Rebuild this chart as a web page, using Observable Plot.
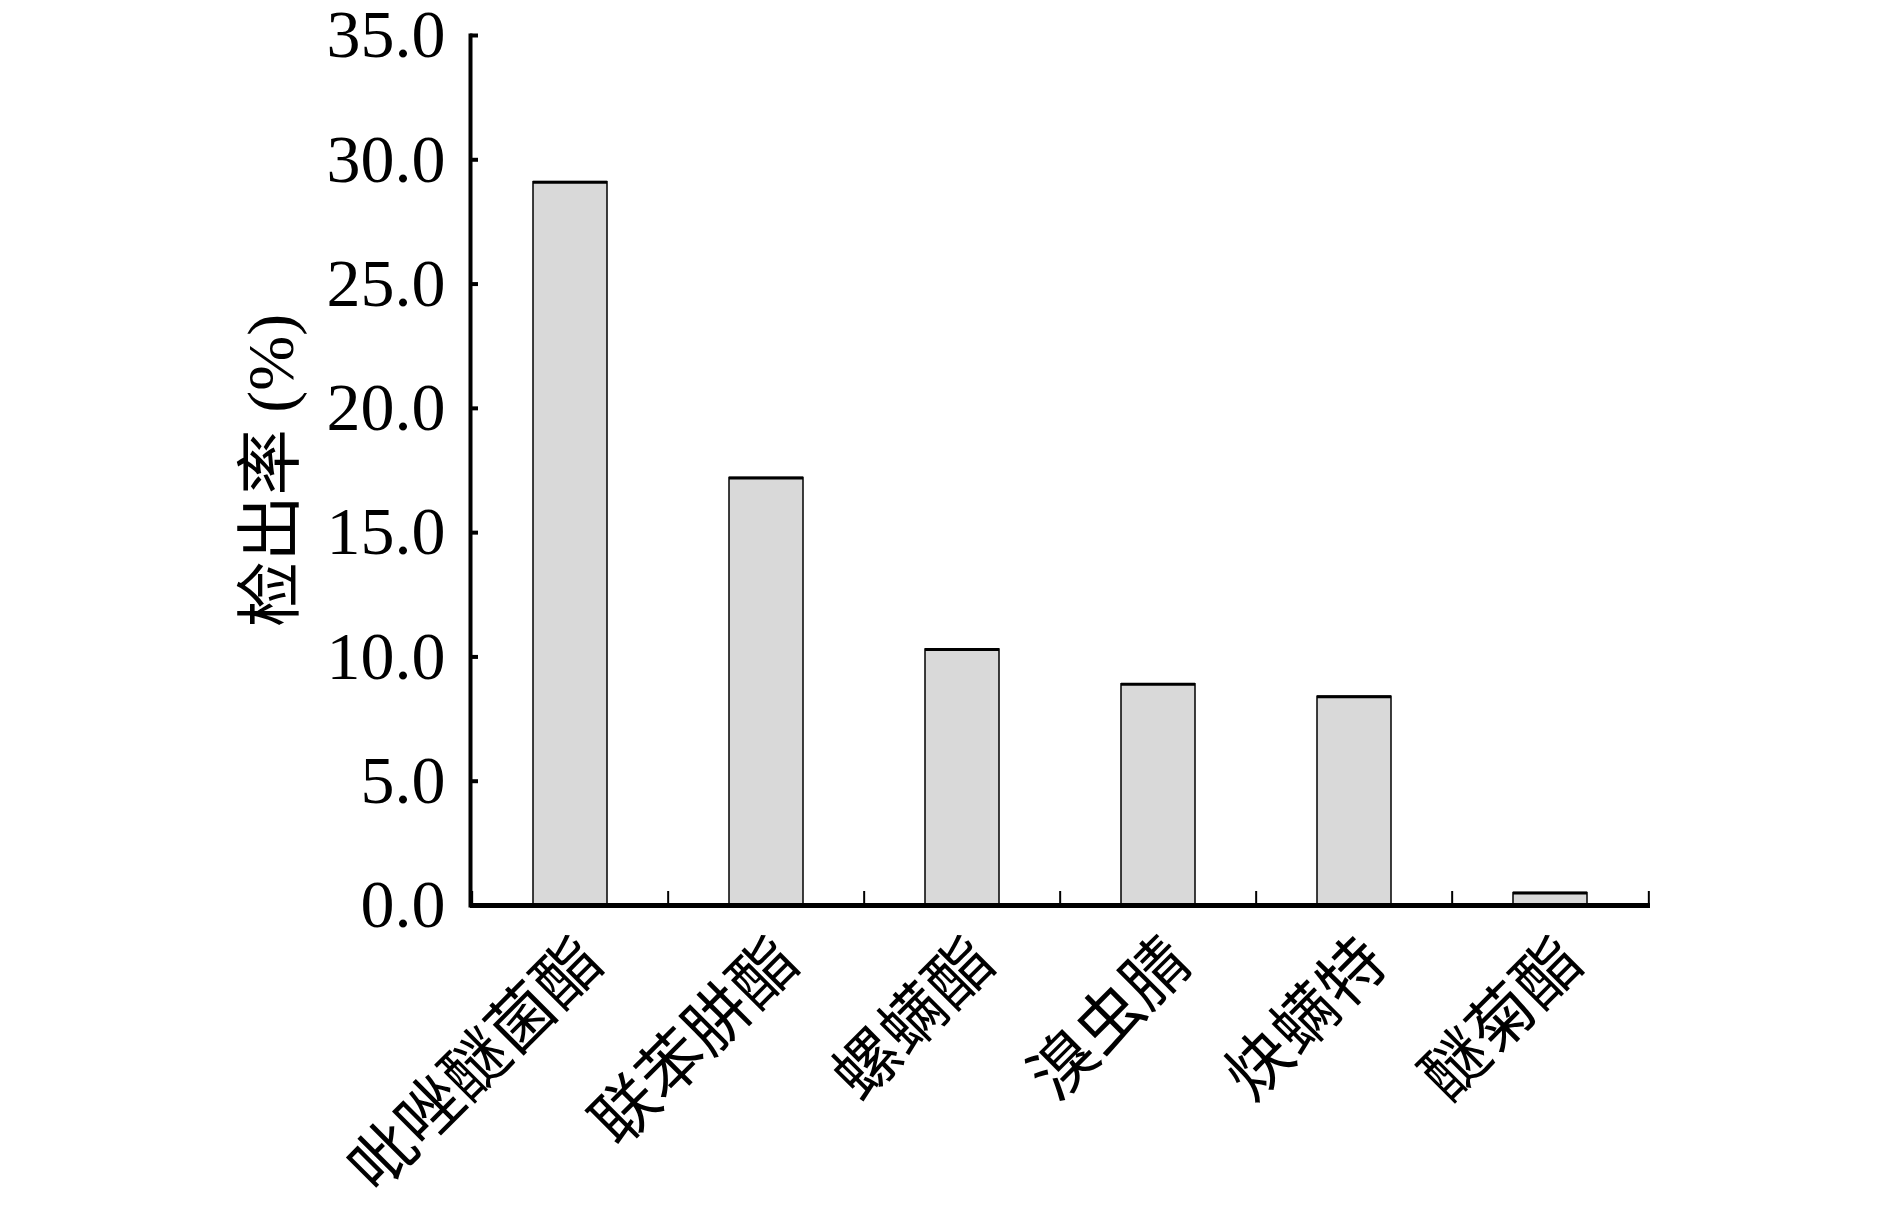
<!DOCTYPE html>
<html><head><meta charset="utf-8">
<script src="https://cdn.jsdelivr.net/npm/d3@7"></script>
<script src="https://cdn.jsdelivr.net/npm/@observablehq/plot@0.6"></script>
<style>html,body{margin:0;padding:0;background:#fff;}</style>
</head><body><div id="chart"></div>
<script>
const categories = ["吡唑醚菌酯", "联苯肼酯", "螺螨酯", "溴虫腈", "炔螨特", "醚菊酯"];
const values = [29.1, 17.2, 10.3, 8.9, 8.4, 0.5];
const yTicks = [0, 5, 10, 15, 20, 25, 30, 35];
const yLabel = "检出率 (%)";

const data = categories.map((name, i) => ({name, value: values[i]}));
const W = 1890, H = 1209, mL = 470, mR = 240, mT = 35, mB = 304;
const step = (W - mL - mR) / categories.length;
const font = "'Liberation Serif','Times New Roman','Noto Sans CJK SC',serif";

const chart = Plot.plot({
  width: W, height: H,
  marginLeft: mL, marginRight: mR, marginTop: mT, marginBottom: mB,
  style: {fontFamily: font, background: "#fff", color: "#000", overflow: "visible"},
  x: {domain: categories, paddingInner: 0.62, paddingOuter: 0.31, label: null},
  y: {domain: [0, 35], label: null},
  marks: [
    Plot.barY(data, {x: "name", y: "value", fill: "#d9d9d9", stroke: "#000", strokeWidth: 1.5}),
    Plot.tickY(data, {x: "name", y: "value", stroke: "#000", strokeWidth: 3}),
    Plot.ruleY([0], {stroke: "#000", strokeWidth: 5}),
    Plot.frame({anchor: "left", stroke: "#000", strokeWidth: 4}),
    Plot.axisY(yTicks, {label: null, tickSize: -8, strokeWidth: 4, tickPadding: 33, tickFormat: d => d.toFixed(1), fontSize: 68}),
    Plot.axisX(categories, {label: null, tickSize: -14, strokeWidth: 2, dx: -step / 2, tickFormat: () => ""}),
    Plot.axisX([categories[categories.length - 1]], {label: null, tickSize: -14, strokeWidth: 2, dx: step / 2, tickFormat: () => ""}),
    Plot.text(categories, {x: d => d, text: d => d, frameAnchor: "bottom", rotate: -45, textAnchor: "end", dx: 36, dy: 60, fontSize: 65}),
    Plot.text([yLabel], {text: d => d, frameAnchor: "left", rotate: -90, textAnchor: "middle", dx: -199, fontSize: 66})
  ]
});
document.getElementById("chart").appendChild(chart);
</script>
</body></html>
